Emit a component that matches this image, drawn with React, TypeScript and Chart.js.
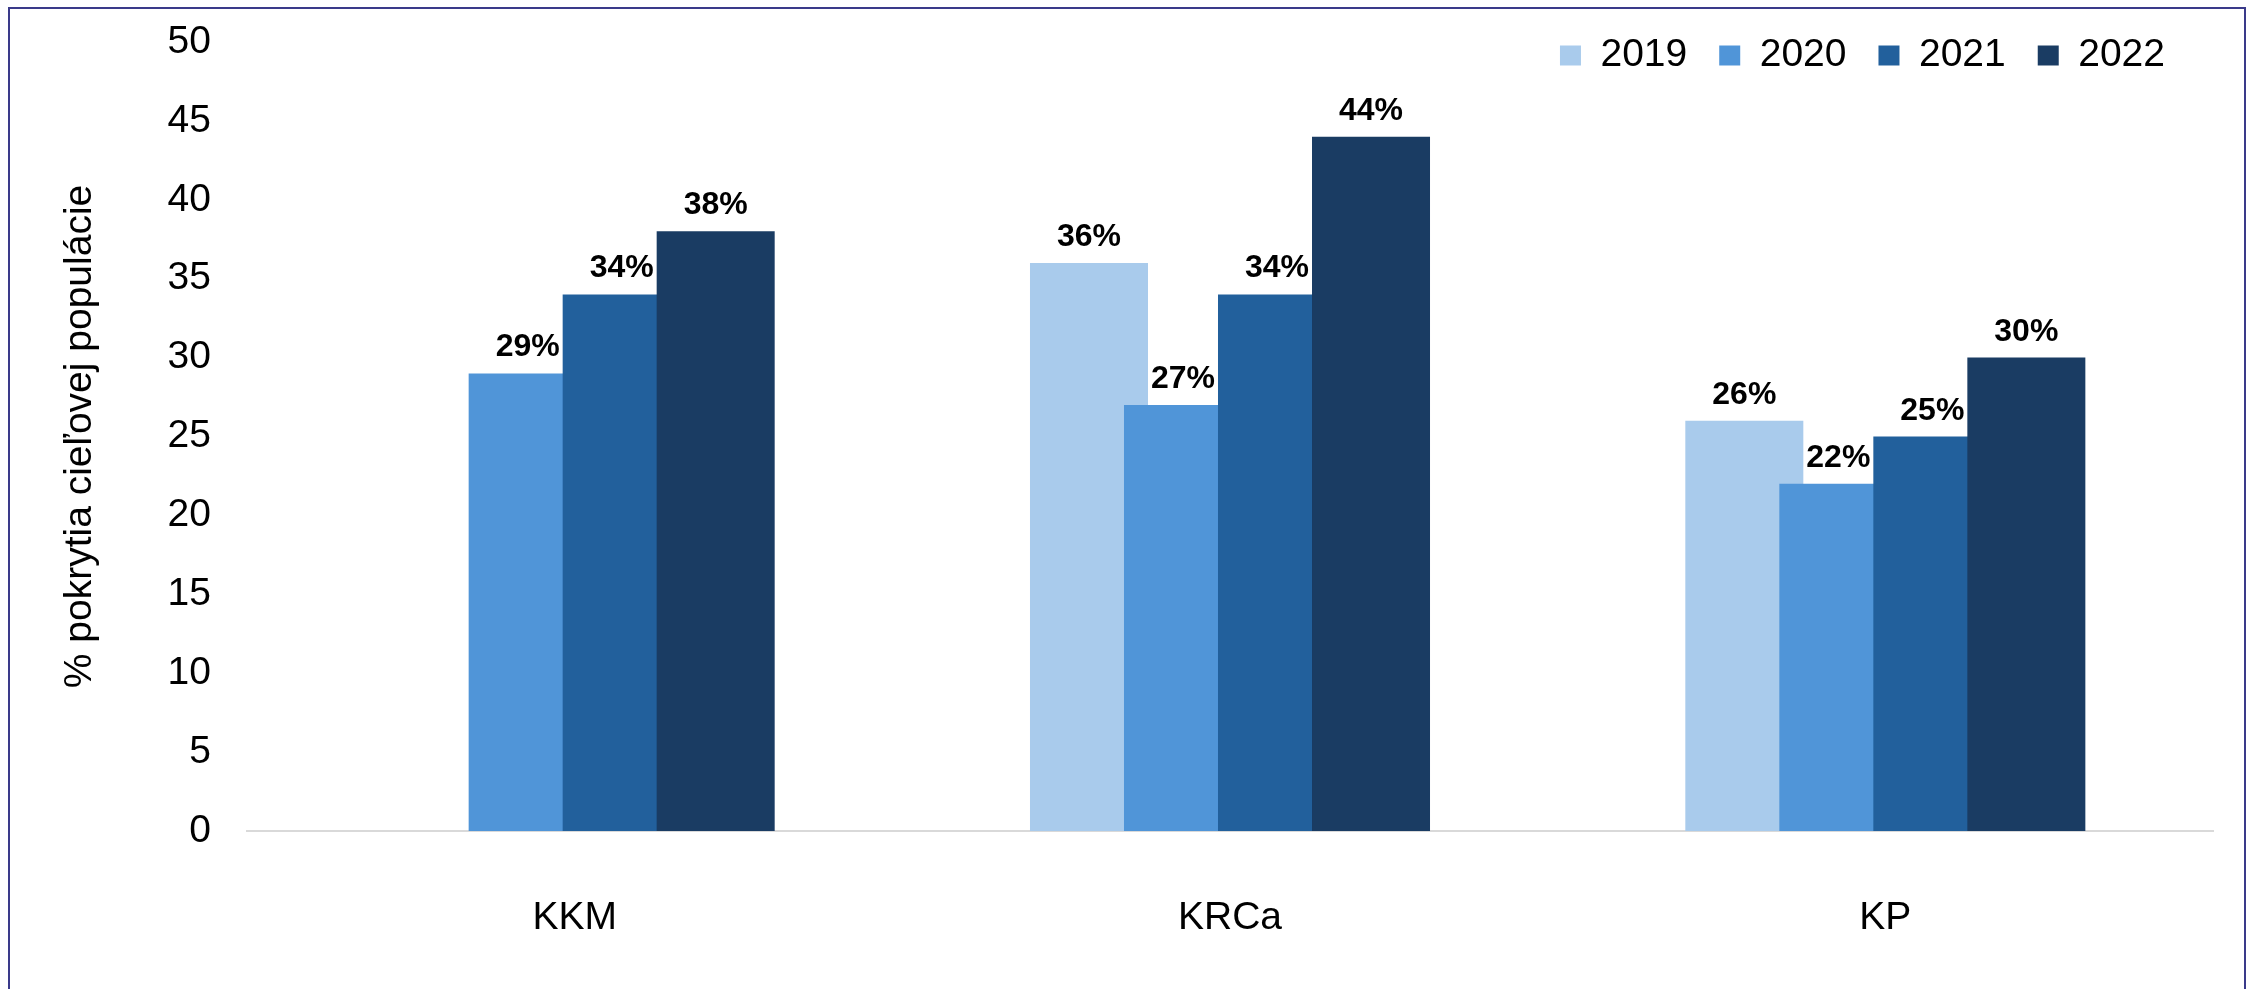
import { useEffect, useRef } from 'react';
import { Chart, registerables } from 'chart.js';

Chart.register(...registerables);

const categories = ['KKM', 'KRCa', 'KP'];
const seriesLabels = ['2019', '2020', '2021', '2022'];
const values2019 = [null, 36, 26];
const values2020 = [29, 27, 22];
const values2021 = [34, 34, 25];
const values2022 = [38, 44, 30];
const seriesColors = ['#A9CBEC', '#5095D8', '#22609C', '#1A3C63'];
const yTitle = '% pokrytia cieľovej populácie';
const yMin = 0;
const yMax = 50;
const yStep = 5;

const FONT = '"Liberation Sans", Arial, sans-serif';

const drawInOrder = {
  id: 'drawInOrder',
  beforeDatasetsDraw(chart: any) {
    const metas = chart.getSortedVisibleDatasetMetas();
    for (const meta of metas) meta.controller.draw();
    return false;
  },
};

const valueLabels = {
  id: 'valueLabels',
  afterDraw(chart: any) {
    const ctx = chart.ctx;
    ctx.save();
    ctx.font = `bold 32px ${FONT}`;
    ctx.fillStyle = '#000';
    ctx.textAlign = 'center';
    ctx.textBaseline = 'alphabetic';
    chart.data.datasets.forEach((ds: any, i: number) => {
      const meta = chart.getDatasetMeta(i);
      meta.data.forEach((el: any, j: number) => {
        const v = ds.data[j];
        if (v == null) return;
        ctx.fillText(`${v}%`, el.x, el.y - 17);
      });
    });
    ctx.restore();
  },
};

// Legend floats over the plot area (top-right), taking no layout space.
const legendPlace = {
  id: 'legendPlace',
  beforeLayout(chart: any) {
    const lg = chart.legend;
    if (lg && !lg.__patched) {
      const orig = lg.fit.bind(lg);
      lg.fit = function () {
        orig();
        this.height = 0;
      };
      lg.__patched = true;
    }
  },
  afterLayout(chart: any) {
    const lg = chart.legend;
    if (!lg) return;
    lg.left = chart.chartArea.left;
    lg.right = chart.chartArea.right - 16;
    lg.top = 4;
    lg.bottom = 130;
    lg.height = 126;
  },
};

export default function App() {
  const ref = useRef<HTMLCanvasElement>(null);
  useEffect(() => {
    if (!ref.current) return;
    const seriesValues = [values2019, values2020, values2021, values2022];
    const chart = new Chart(ref.current, {
      type: 'bar',
      data: {
        labels: categories,
        datasets: seriesLabels.map((label, i) => ({
          label,
          data: seriesValues[i],
          backgroundColor: seriesColors[i],
          borderWidth: 0,
          categoryPercentage: 0.5738,
          barPercentage: 1.2553,
        })),
      },
      options: {
        responsive: false,
        animation: false,
        devicePixelRatio: 1,
        layout: { padding: { left: 0, right: 36, top: 42, bottom: 0 } },
        plugins: {
          tooltip: { enabled: false },
          legend: {
            position: 'top',
            align: 'end',
            labels: {
              boxWidth: 21,
              boxHeight: 20,
              padding: 32,
              color: '#000',
              font: { family: FONT, size: 39 },
            },
          },
        },
        scales: {
          x: {
            grid: { display: false, drawTicks: false, tickLength: 0 },
            border: { display: true, color: '#D9D9D9', width: 2 },
            ticks: { color: '#000', font: { family: FONT, size: 39 }, padding: 64 },
            afterFit(scale: any) { scale.height = 158; },
          },
          y: {
            min: yMin,
            max: yMax,
            grid: { display: false, drawTicks: false, tickLength: 0 },
            border: { display: false },
            ticks: { stepSize: yStep, color: '#000', font: { family: FONT, size: 39 }, padding: 36 },
            title: {
              display: true,
              text: yTitle,
              color: '#000',
              font: { family: FONT, size: 39 },
              padding: { top: 57, bottom: 0 },
            },
            afterFit(scale: any) {
              scale.width = 247;
              scale.paddingTop = 0;
              scale.paddingBottom = 0;
            },
          },
        },
      },
      plugins: [drawInOrder, valueLabels, legendPlace],
    } as any);
    return () => chart.destroy();
  }, []);
  return (
    <div style={{ position: 'absolute', left: 0, top: 0, width: 2249, height: 989, background: '#fff' }}>
      <canvas ref={ref} width={2249} height={989} style={{ display: 'block' }} />
      <div
        style={{
          position: 'absolute',
          left: 8,
          top: 7,
          width: 2238,
          height: 1000,
          border: '2px solid #3A3A8A',
          boxSizing: 'border-box',
          pointerEvents: 'none',
        }}
      />
    </div>
  );
}
